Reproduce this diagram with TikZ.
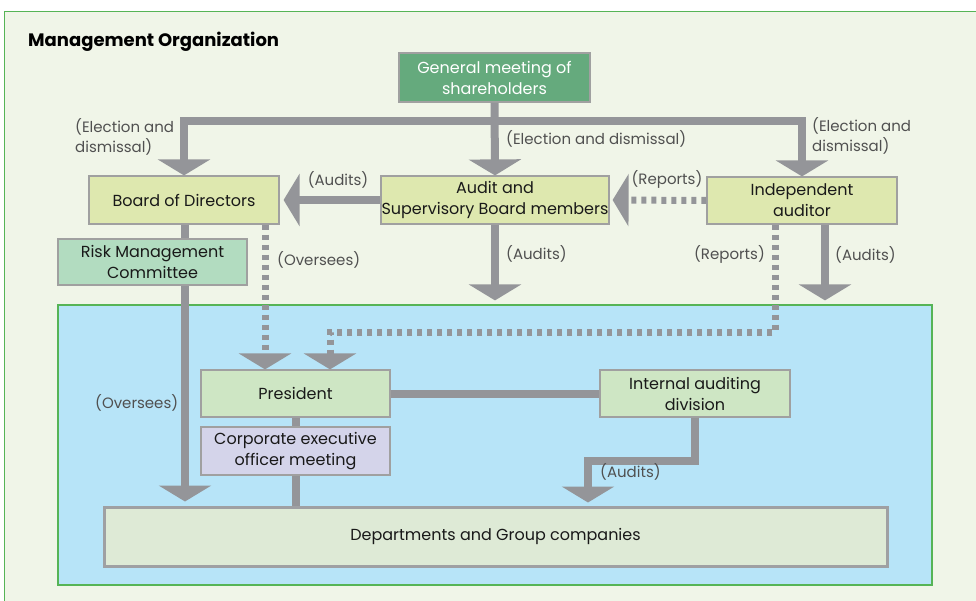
\documentclass[tikz,border=0pt]{standalone}
\usepackage{fontspec}
\setmainfont{Poppins}
\usetikzlibrary{arrows.meta}
\usetikzlibrary{positioning}
\definecolor{panelbg}{RGB}{240,245,232}
\definecolor{framegreen}{RGB}{86,180,86}
\definecolor{companyblue}{RGB}{183,228,248}
\definecolor{bargray}{RGB}{148,149,153}
\definecolor{boxgray}{RGB}{160,160,160}
\definecolor{labelgray}{RGB}{80,80,80}
\definecolor{gmgreen}{RGB}{101,170,125}
\definecolor{boardyellow}{RGB}{222,232,175}
\definecolor{riskmint}{RGB}{178,220,192}
\definecolor{presgreen}{RGB}{206,230,196}
\definecolor{ceolilac}{RGB}{212,212,234}
\definecolor{deptgreen}{RGB}{222,234,214}

\begin{document}
\begin{tikzpicture}[
            x=1pt, y=-1pt,
            box/.style={rectangle, draw=boxgray, line width=1.2pt, inner sep=0pt, align=center,
                text=black!90, font=\fontsize{16}{21}\selectfont},
            label/.style={text=labelgray, inner sep=0pt, align=left, font=\fontsize{15}{20}\selectfont},
            flow/.style={draw=bargray, line width=8pt, -{Triangle[width=52pt,length=16pt]}},
            bar/.style={draw=bargray, line width=8pt},
            dots/.style={draw=bargray, line width=7pt, dash pattern=on 5pt off 5pt,
                -{Triangle[width=52pt,length=16pt]}}
        ]
        \useasboundingbox (0,0) rectangle (976,601);
        \fill[white] (0,0) rectangle (976,601);
        \filldraw[fill=panelbg, draw=framegreen, line width=1pt] (4,12) rectangle (990,620);

        % Title
        \node[anchor=west, inner sep=0pt, font=\fontsize{18}{21}\selectfont\bfseries] (title) at (28,42) {Management Organization};

        % Company area
        \node[rectangle, fill=companyblue, draw=framegreen, line width=1.2pt,
            minimum width=874pt, minimum height=280pt] (company) at (495,445) {};

        % Shareholders and boards
        \node[box, fill=gmgreen, text=white, minimum width=191pt, minimum height=49pt] (gm) at (494.5,77.5) {General meeting of\\shareholders};
        \node[box, fill=boardyellow, minimum width=190pt, minimum height=48pt] (board) at (184,200) {Board of Directors};
        \node[box, fill=boardyellow, minimum width=228pt, minimum height=48pt] (audit) at (495,200) {Audit and\\Supervisory Board members};
        \node[box, fill=boardyellow, minimum width=190pt, minimum height=47pt] (ia) at (802,200.5) {Independent\\auditor};

        % Inside the company
        \node[box, fill=presgreen, minimum width=189pt, minimum height=47pt] (pres) at (295.5,393.5) {President};
        \node[box, fill=ceolilac, minimum width=189pt, minimum height=48pt] (ceo) at (295.5,451) {Corporate executive\\officer meeting};
        \node[box, fill=presgreen, minimum width=190pt, minimum height=47pt] (iad) at (695,393.5) {Internal auditing\\division};
        \node[box, fill=deptgreen, line width=3pt, draw=bargray!90, minimum width=783pt, minimum height=59pt] (dept) at (495.5,536.5) {Departments and Group companies};

        % Bend points
        \coordinate (busL) at (184,121);
        \coordinate (busR) at (802,121);
        \coordinate (repR) at (775,332);
        \coordinate (repL) at (330,332);
        \coordinate (iadR) at (695,461);
        \coordinate (iadL) at (588,461);

        % Election and dismissal
        \draw[flow] (busR) -- (busL) -- (board.north);
        \draw[flow] (busL) -- (busR) -- (ia.north);
        \draw[flow] (gm.south) -- (audit.north);

        % Board overseeing the company
        \draw[flow, shorten >=4pt] ([xshift=1pt]board.south) -- ([xshift=1pt]board.south |- dept.north);
        \node[box, fill=riskmint, minimum width=189pt, minimum height=46pt] (risk) at (152.5,262) {Risk Management\\Committee};
        \draw[dots] ([xshift=81pt]board.south) -- ([xshift=-30.5pt]pres.north);

        % Audits and reports between the boards
        \draw[flow, shorten >=4pt] (audit.west) -- (board.east);
        \draw[dots, shorten >=3pt] (ia.west) -- (audit.east);
        \draw[flow, shorten >=4pt] (audit.south) -- (audit.south |- company.north);
        \draw[flow, shorten >=4pt] ([xshift=23pt]ia.south) -- ([xshift=23pt]ia.south |- company.north);
        \draw[dots] ([xshift=-27pt]ia.south) -- (repR) -- (repL) -- (repL |- pres.north);

        % Inside the company
        \draw[bar] (pres.east) -- (iad.west);
        \draw[bar] (pres.south) -- (ceo.north);
        \draw[bar] (ceo.south) -- (ceo.south |- dept.north);
        \draw[flow, shorten >=3pt] (iad.south) -- (iadR) -- (iadL) -- (iadL |- dept.north);

        % Labels
        \node[label, anchor=west] (elecL) at (75,137) {(Election and\\dismissal)};
        \node[label, anchor=west] (elecM) at (506,139) {(Election and dismissal)};
        \node[label, anchor=west] (elecR) at (812,136) {(Election and\\dismissal)};
        \node[label] (auditsB) at (338,180) {(Audits)};
        \node[label] (reportsA) at (667,179) {(Reports)};
        \node[label, anchor=west] (overseesP) at (277,260) {(Oversees)};
        \node[label, anchor=west] (auditsC) at (506,254) {(Audits)};
        \node[label, anchor=east] (reportsP) at (765,254) {(Reports)};
        \node[label, anchor=west] (auditsI) at (835,255) {(Audits)};
        \node[label, anchor=west] (overseesD) at (95,403) {(Oversees)};
        \node[label, anchor=west] (auditsD) at (600,472) {(Audits)};

    \end{tikzpicture}
\end{document}
